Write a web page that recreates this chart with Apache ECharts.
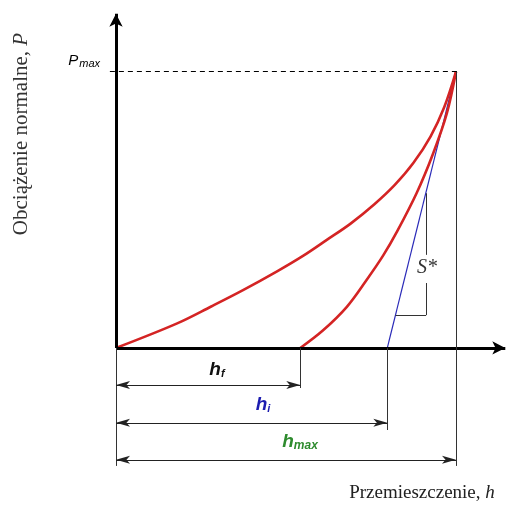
<!DOCTYPE html>
<html>
<head>
<meta charset="utf-8">
<script src="https://cdn.jsdelivr.net/npm/echarts@6/dist/echarts.min.js"></script>
<style>
  html, body {margin: 0; padding: 0; background: #fff;}
  #main {width: 518px; height: 506px;}
</style>
</head>
<body>
<div id="main"></div>
<script>
// krzywa obciazenia: przemieszczenie h, obciazenie P (jednostki umowne, hmax = Pmax = 10)
var loadH = [0, 1.8, 2.8, 3.75, 4.75, 5.5, 6.2, 6.9, 7.6, 8.2, 8.75, 9.25, 9.65, 10];
var loadP = [0, 0.89, 1.5, 2.1, 2.78, 3.33, 3.91, 4.5, 5.2, 5.9, 6.7, 7.65, 8.7, 10];
// krzywa odciazenia
var unloadH = [5.42, 6.10, 6.79, 7.37, 7.86, 8.26, 8.84, 9.33, 9.73, 10];
var unloadP = [0, 0.65, 1.49, 2.46, 3.35, 4.2, 5.6, 7.05, 8.49, 10];
// punkty charakterystyczne
var hf = 5.42, hi = 7.98, hmax = 10, pmax = 10;
// trojkat sztywnosci S*
var triX = [8.22, 9.12];
var triY = [1.19, 5.60];
var triGap = [2.35, 3.37];
// poziomy strzalek wymiarowych
var dimY = [-1.34, -2.71, -4.05];

function pairs(xs, ys) {
  var out = [];
  for (var i = 0; i < xs.length; i++) out.push([xs[i], ys[i]]);
  return out;
}
function seg(x1, y1, x2, y2) {
  return [{coord: [x1, y1]}, {coord: [x2, y2]}];
}

var chart = echarts.init(document.getElementById('main'));

var thin = {color: '#333', width: 1, type: 'solid'};

var option = {
  animation: false,
  grid: {left: 82, top: 2.6, width: 431.8, height: 483.5},
  xAxis: {type: 'value', min: -1, max: 11.7, show: false},
  yAxis: {type: 'value', min: -5, max: 12.5, show: false},
  series: [
    {
      // osie z grotami
      type: 'line', data: [], silent: true,
      markLine: {
        silent: true, symbol: ['none', 'arrow'], symbolSize: [10, 13],
        label: {show: false},
        lineStyle: {color: '#000', width: 3, type: 'solid'},
        data: [seg(0, 0, 0, 12.1), seg(0, 0, 11.45, 0)]
      }
    },
    {
      // linie pomocnicze
      type: 'line', data: [], silent: true,
      markLine: {
        silent: true, symbol: ['none', 'none'],
        label: {show: false},
        lineStyle: thin,
        data: [
          seg(0, 0, 0, -4.27),
          seg(hf, 0, hf, -1.45),
          seg(hi, 0, hi, -2.97),
          seg(hmax, pmax, hmax, -4.27),
          seg(triX[0], triY[0], triX[1], triY[0]),
          seg(triX[1], triY[0], triX[1], triGap[0]),
          seg(triX[1], triGap[1], triX[1], triY[1])
        ]
      }
    },
    {
      // Pmax - linia przerywana
      type: 'line', data: [], silent: true,
      markLine: {
        silent: true, symbol: ['none', 'none'],
        label: {show: false},
        lineStyle: {color: '#000', width: 1, type: [5, 4]},
        data: [seg(-0.18, pmax, 10.05, pmax)]
      }
    },
    {
      // strzalki wymiarowe
      type: 'line', data: [], silent: true,
      markLine: {
        silent: true, symbol: ['arrow', 'arrow'], symbolSize: [6, 14],
        label: {show: false},
        lineStyle: {color: '#222', width: 1, type: 'solid'},
        data: [
          seg(0, dimY[0], hf, dimY[0]),
          seg(0, dimY[1], hi, dimY[1]),
          seg(0, dimY[2], hmax, dimY[2])
        ]
      }
    },
    {
      // styczna do krzywej odciazenia
      type: 'line', silent: true, symbol: 'none',
      lineStyle: {color: '#2a2ab8', width: 1.2},
      data: [[hi, 0], [hmax, pmax]]
    },
    {
      type: 'line', silent: true, symbol: 'none', smooth: 0.35,
      lineStyle: {color: '#d42424', width: 2.6},
      data: pairs(loadH, loadP)
    },
    {
      type: 'line', silent: true, symbol: 'none', smooth: 0.35,
      lineStyle: {color: '#d42424', width: 2.6},
      data: pairs(unloadH, unloadP)
    }
  ],
  graphic: [
    {
      type: 'text', x: 21, y: 134, rotation: Math.PI / 2,
      style: {
        text: 'Obciążenie normalne, {it|P}',
        font: '21px "Liberation Serif", serif', fill: '#333',
        align: 'center', verticalAlign: 'middle',
        rich: {it: {font: 'italic 21px "Liberation Serif", serif', fill: '#333'}}
      }
    },
    {
      type: 'text', x: 422, y: 493,
      style: {
        text: 'Przemieszczenie, {it|h}',
        font: '19px "Liberation Serif", serif', fill: '#222',
        align: 'center', verticalAlign: 'middle',
        rich: {it: {font: 'italic 19px "Liberation Serif", serif', fill: '#222'}}
      }
    },
    {
      type: 'text', x: 100, y: 61,
      style: {
        text: '{p|P}{s|max}',
        align: 'right', verticalAlign: 'middle',
        rich: {
          p: {font: 'italic 15px "Liberation Sans", Arial', fill: '#000'},
          s: {font: 'italic 11px "Liberation Sans", Arial', fill: '#000', padding: [6, 0, 0, 1]}
        }
      }
    },
    {
      type: 'text', x: 217, y: 370,
      style: {
        text: '{h|h}{s|f}', align: 'center', verticalAlign: 'middle',
        rich: {
          h: {font: 'italic bold 19px "Liberation Sans", Arial', fill: '#111'},
          s: {font: 'italic bold 11px "Liberation Sans", Arial', fill: '#111', padding: [8, 0, 0, 0]}
        }
      }
    },
    {
      type: 'text', x: 263, y: 405,
      style: {
        text: '{h|h}{s|i}', align: 'center', verticalAlign: 'middle',
        rich: {
          h: {font: 'italic bold 19px "Liberation Sans", Arial', fill: '#1c1cb0'},
          s: {font: 'italic bold 11px "Liberation Sans", Arial', fill: '#1c1cb0', padding: [8, 0, 0, 0]}
        }
      }
    },
    {
      type: 'text', x: 300, y: 442,
      style: {
        text: '{h|h}{s|max}', align: 'center', verticalAlign: 'middle',
        rich: {
          h: {font: 'italic bold 19px "Liberation Sans", Arial', fill: '#2e8b2e'},
          s: {font: 'italic bold 12px "Liberation Sans", Arial', fill: '#2e8b2e', padding: [8, 0, 0, 0]}
        }
      }
    },
    {
      type: 'text', x: 427, y: 268,
      style: {
        text: 'S*', align: 'center', verticalAlign: 'middle',
        font: 'italic 20px "Liberation Serif", serif', fill: '#333'
      }
    }
  ]
};

chart.setOption(option);
</script>
</body>
</html>
